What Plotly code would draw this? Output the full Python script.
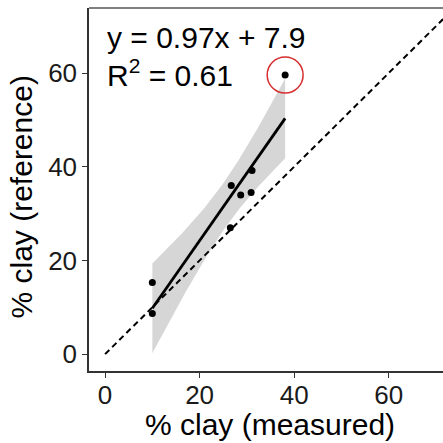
import numpy as np
import plotly.graph_objects as go

# Data
measured = [10.0, 10.0, 26.7, 28.7, 31.1, 30.9, 26.5, 38.1]
reference = [15.3, 8.7, 36.0, 34.0, 39.2, 34.5, 27.0, 59.6]
outlier_index = 7
equation_text = "y = 0.97x + 7.9"
r2_text = "R<sup>2</sup> = 0.61"
x_ticks = [0, 20, 40, 60]
y_ticks = [0, 20, 40, 60]
x_title = "% clay (measured)"
y_title = "% clay (reference)"
one_to_one = [0, 80]
T_975_DF6 = 2.446912  # Student t quantile for 95% CI with n-2 = 6 df

x = np.array(measured)
y = np.array(reference)
n = len(x)
xm, ym = x.mean(), y.mean()
sxx = ((x - xm) ** 2).sum()
slope = ((x - xm) * (y - ym)).sum() / sxx
intercept = ym - slope * xm
resid = y - (intercept + slope * x)
s = np.sqrt((resid ** 2).sum() / (n - 2))
xg = np.linspace(x.min(), x.max(), 80)
yg = intercept + slope * xg
se = s * np.sqrt(1 / n + (xg - xm) ** 2 / sxx)
lo = yg - T_975_DF6 * se
hi = yg + T_975_DF6 * se

FONT = "Liberation Sans, Arial, sans-serif"
AX = "#333333"

fig = go.Figure()
fig.add_trace(go.Scatter(x=np.concatenate([xg, xg[::-1]]), y=np.concatenate([hi, lo[::-1]]),
                         fill="toself", fillcolor="rgba(153,153,153,0.4)",
                         line=dict(width=0), mode="lines", hoverinfo="skip", showlegend=False))
fig.add_trace(go.Scatter(x=one_to_one, y=one_to_one, mode="lines",
                         line=dict(color="black", width=2, dash="6px,4px"),
                         hoverinfo="skip", showlegend=False))
fig.add_trace(go.Scatter(x=xg, y=yg, mode="lines", line=dict(color="black", width=2.8),
                         showlegend=False))
fig.add_trace(go.Scatter(x=measured, y=reference, mode="markers",
                         marker=dict(color="black", size=7), showlegend=False))

ox, oy = measured[outlier_index], reference[outlier_index]
rx, ry = 3.8, 3.85
fig.add_shape(type="circle", xref="x", yref="y", x0=ox - rx, x1=ox + rx, y0=oy - ry, y1=oy + ry,
              line=dict(color="#d62d2d", width=1.5))
# top border of the panel
fig.add_shape(type="line", xref="paper", yref="paper", x0=0, x1=1, y0=1, y1=1,
              line=dict(color="#555555", width=1.5))

fig.add_annotation(text=equation_text, xref="paper", yref="paper", x=0.046, y=0.918,
                   xanchor="left", yanchor="middle", showarrow=False,
                   font=dict(family=FONT, size=30, color="black"))
fig.add_annotation(text=r2_text, xref="paper", yref="paper", x=0.046, y=0.822,
                   xanchor="left", yanchor="middle", showarrow=False,
                   font=dict(family=FONT, size=30, color="black"))
fig.add_annotation(text=x_title, xref="paper", yref="paper", x=0.512, y=-0.148,
                   xanchor="center", yanchor="middle", showarrow=False,
                   font=dict(family=FONT, size=30, color="black"))
fig.add_annotation(text=y_title, xref="paper", yref="paper", x=-0.19, y=0.48,
                   xanchor="center", yanchor="middle", showarrow=False, textangle=-90,
                   font=dict(family=FONT, size=30, color="black"))

fig.update_xaxes(range=[-3.4, 71.5], tickvals=x_ticks, showgrid=False, zeroline=False,
                 showline=True, linecolor=AX, linewidth=1.5, ticks="outside", ticklen=5,
                 tickcolor=AX, tickwidth=1.2, automargin=False, ticklabelstandoff=-5,
                 tickfont=dict(family=FONT, size=26, color="#1a1a1a"))
fig.update_yaxes(range=[-3.6, 73.9], tickvals=y_ticks, showgrid=False, zeroline=False,
                 showline=True, linecolor=AX, linewidth=1.5, ticks="outside", ticklen=5,
                 tickcolor=AX, tickwidth=1.2, automargin=False,
                 tickfont=dict(family=FONT, size=26, color="#1a1a1a"))
fig.update_layout(width=443, height=443, margin=dict(l=89, r=0, t=8, b=72, autoexpand=False),
                  plot_bgcolor="white", paper_bgcolor="white")
fig.write_html("out.html", config={"displayModeBar": False},
               post_script="document.body.style.margin='0';document.body.style.overflow='hidden';")
